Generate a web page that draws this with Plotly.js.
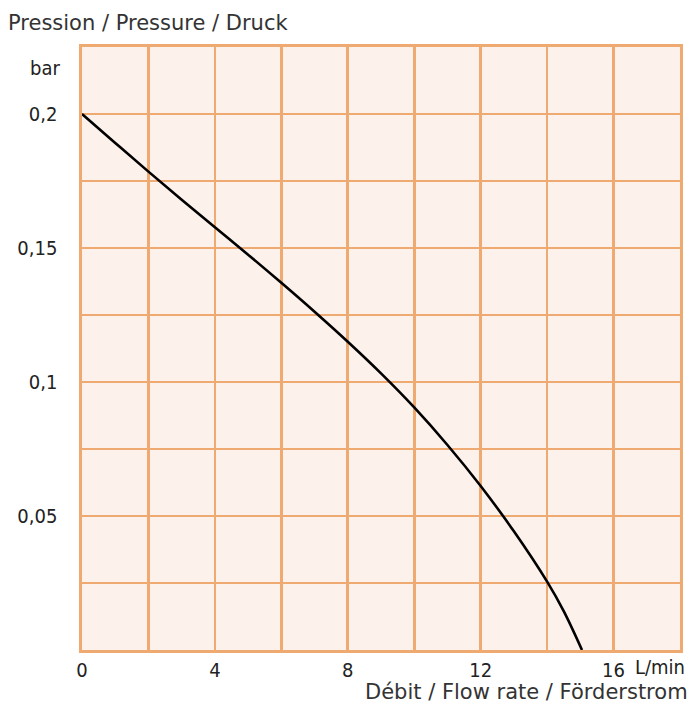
<!DOCTYPE html>
<html>
<head>
<meta charset="utf-8">
<script src="https://cdn.plot.ly/plotly-3.0.1.min.js"></script>
<style>html,body{margin:0;padding:0;background:#fff;}#chart{width:692px;height:713px;}</style>
</head>
<body>
<div id="chart"></div>
<script>
// Flow rate (L/min) and pressure (bar)
var flow = [0, 1, 2, 3, 4, 5, 6, 7, 8, 9, 10, 11, 12, 13, 14, 14.5, 15.05];
var pressure = [0.2, 0.1892, 0.1785, 0.168, 0.1577, 0.1475, 0.137, 0.1262, 0.115, 0.1032, 0.0905, 0.0765, 0.0612, 0.0443, 0.0255, 0.0145, 0];

var xTickVals = [0, 2, 4, 6, 8, 10, 12, 14, 16, 18];
var xTickText = ['0', '', '4', '', '8', '', '12', '', '16', ''];
var yTickVals = [0, 0.025, 0.05, 0.075, 0.1, 0.125, 0.15, 0.175, 0.2, 0.225];
var yTickText = ['', '', '0,05', '', '0,1', '', '0,15', '', '0,2', ''];

var gridColor = '#EFAA72';
var tickFont = {family: '"Liberation Sans Narrow", "DejaVu Sans Condensed", "Arial Narrow", sans-serif', size: 20, color: '#222222'};
var labelFont = {family: '"DejaVu Sans", "Noto Sans", sans-serif', size: 21, color: '#333333'};

var trace = {
  x: flow, y: pressure, type: 'scatter', mode: 'lines',
  line: {color: '#000000', width: 2.6, shape: 'spline', smoothing: 1},
  hoverinfo: 'skip'
};

var layout = {
  width: 692, height: 713,
  margin: {l: 82, r: 12, t: 47, b: 63},
  paper_bgcolor: '#ffffff',
  plot_bgcolor: '#FCF2EB',
  showlegend: false,
  xaxis: {
    range: [0, 18], tickvals: xTickVals, ticktext: xTickText,
    showgrid: true, gridcolor: gridColor, gridwidth: 2.6,
    zeroline: false, showline: true, linecolor: gridColor, linewidth: 2.6, mirror: true,
    ticks: '', tickfont: tickFont, fixedrange: true
  },
  yaxis: {
    range: [0, 0.225], tickvals: yTickVals, ticktext: yTickText,
    showgrid: true, gridcolor: gridColor, gridwidth: 2.6,
    zeroline: false, showline: true, linecolor: gridColor, linewidth: 2.6, mirror: true,
    ticks: '', ticklabelstandoff: 18, tickfont: tickFont, fixedrange: true
  },
  annotations: [
    {text: 'Pression / Pressure / Druck', xref: 'paper', yref: 'paper', x: -0.127, y: 1.04,
     xanchor: 'left', yanchor: 'middle', showarrow: false, font: labelFont},
    {text: 'bar', xref: 'paper', yref: 'paper', x: -0.033, y: 0.965,
     xanchor: 'right', yanchor: 'middle', showarrow: false, font: tickFont},
    {text: 'L/min', xref: 'paper', yref: 'paper', x: 1.012, y: -0.028,
     xanchor: 'right', yanchor: 'middle', showarrow: false, font: tickFont},
    {text: 'Débit / Flow rate / Förderstrom', xref: 'paper', yref: 'paper', x: 1.017, y: -0.069,
     xanchor: 'right', yanchor: 'middle', showarrow: false, font: labelFont}
  ]
};

Plotly.newPlot('chart', [trace], layout, {displayModeBar: false, staticPlot: true});
</script>
</body>
</html>
